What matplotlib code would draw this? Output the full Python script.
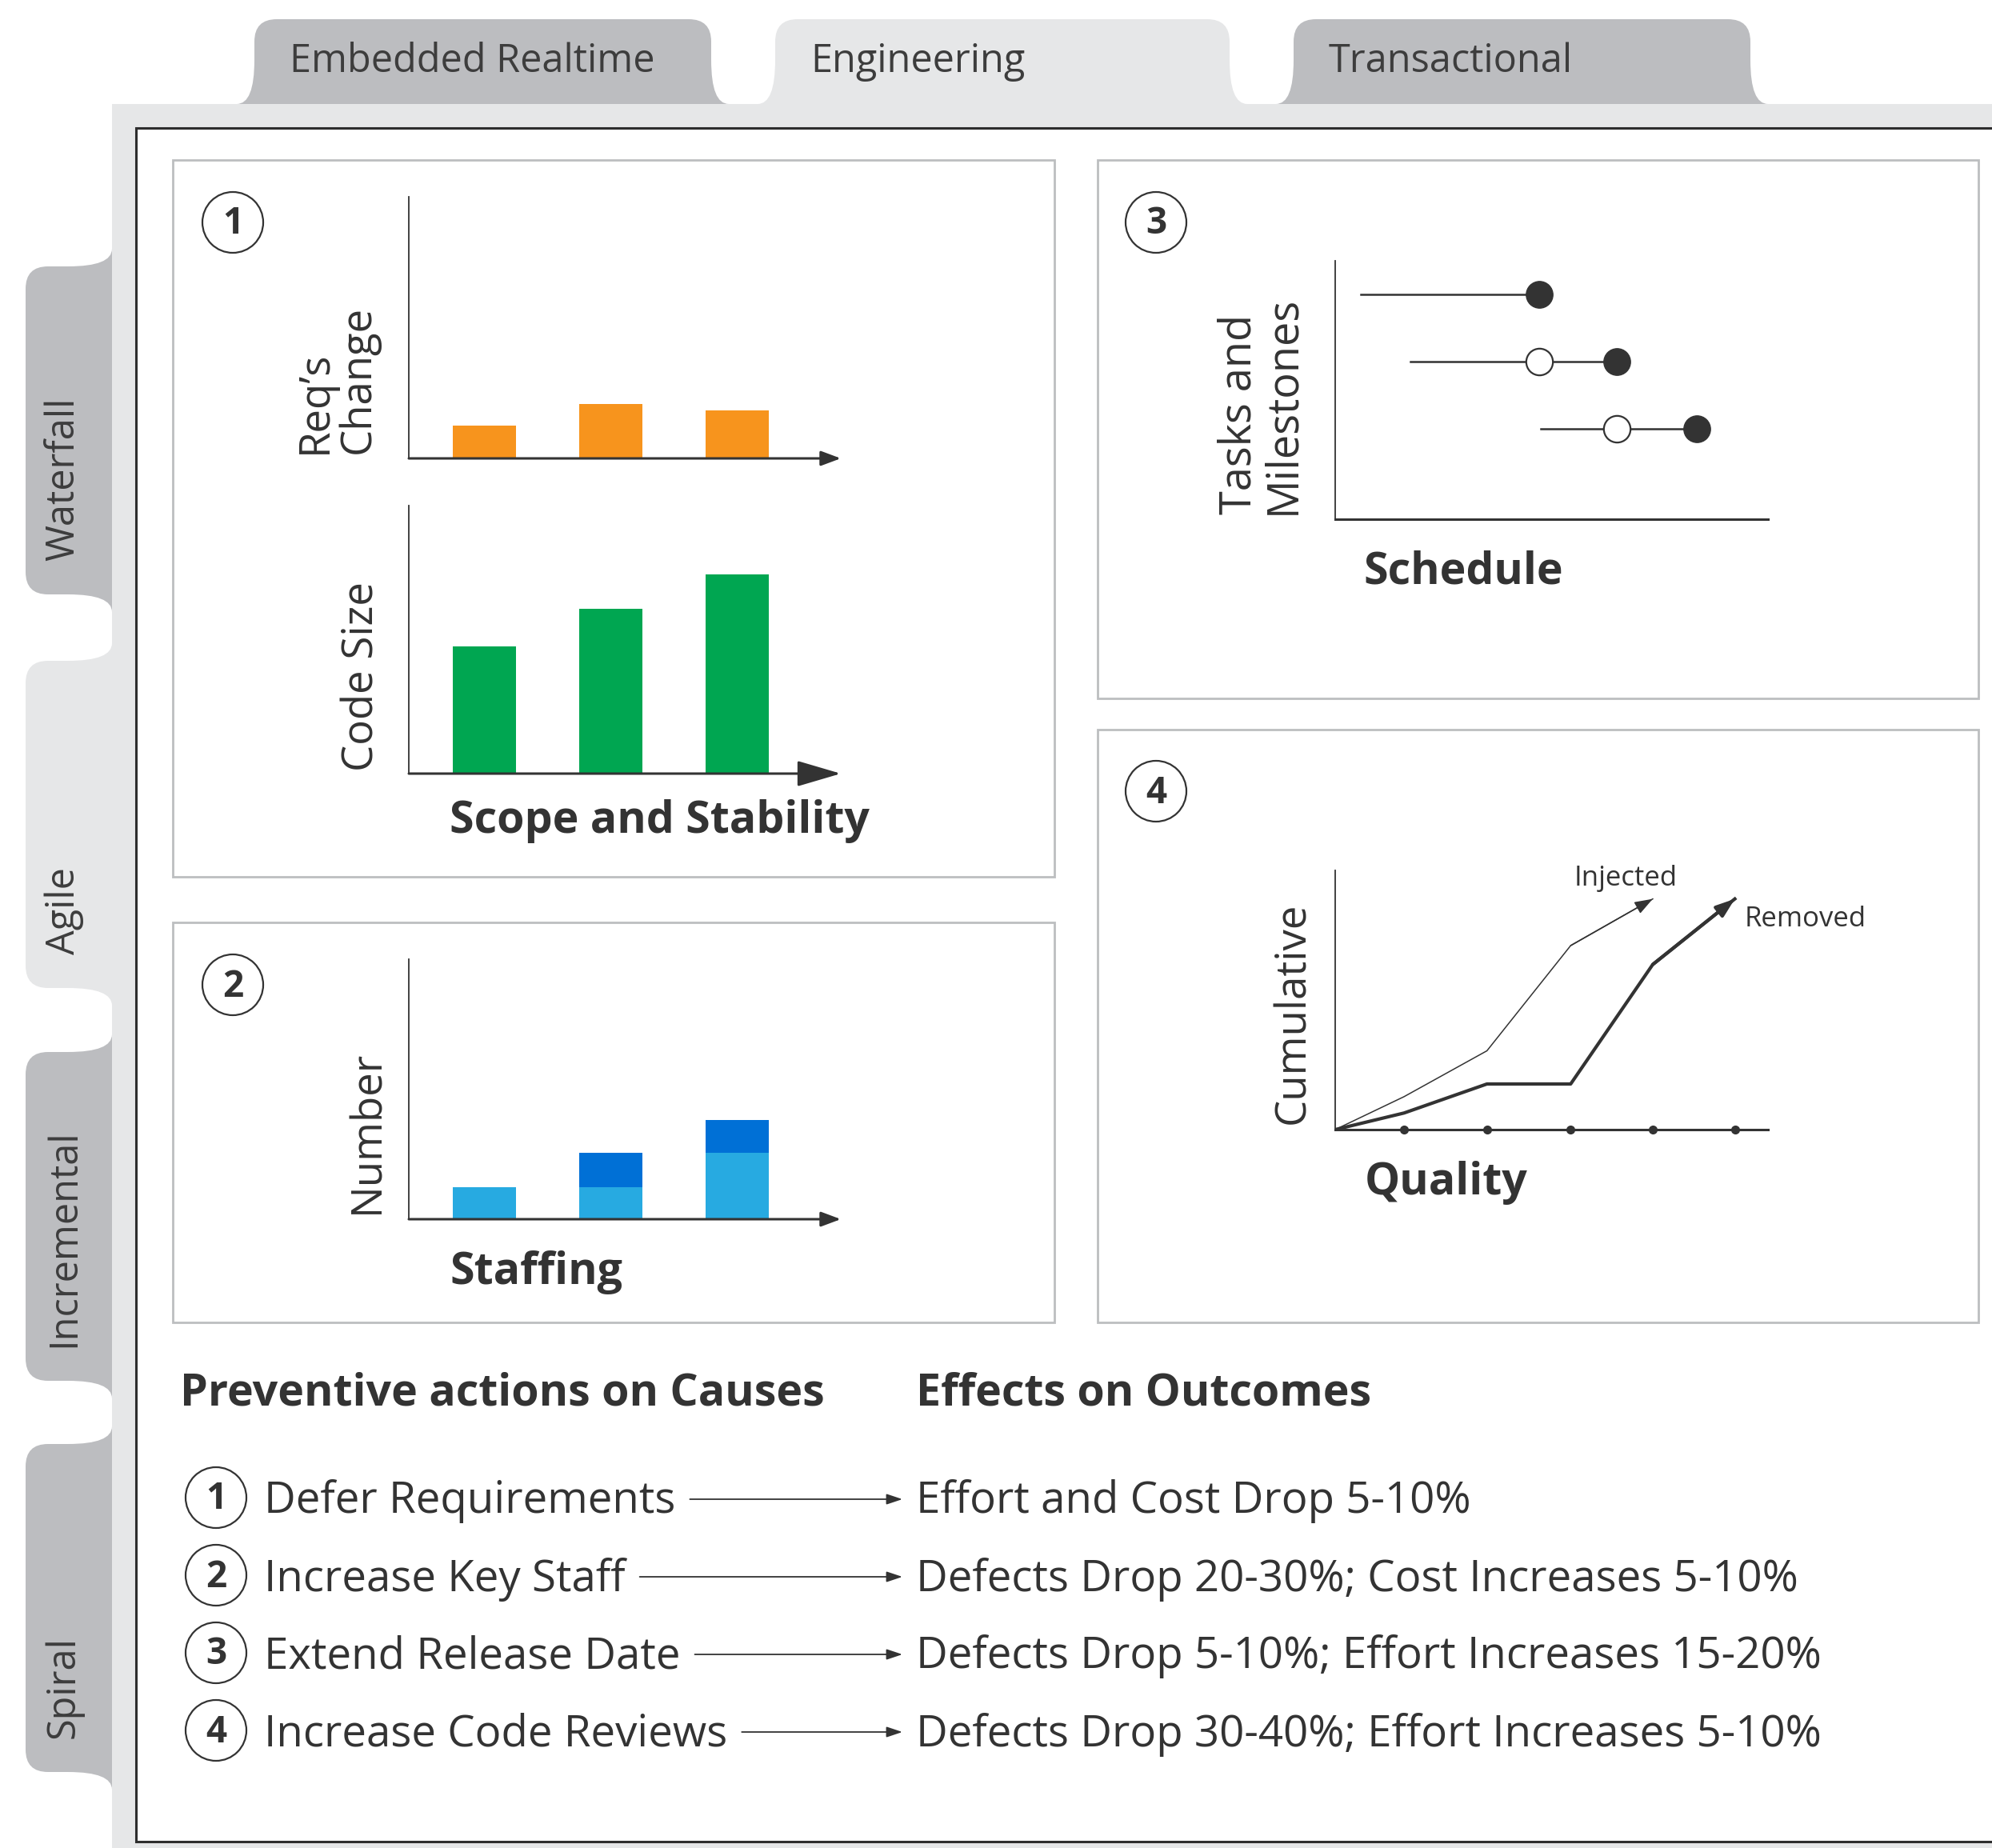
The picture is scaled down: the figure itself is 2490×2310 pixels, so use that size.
import numpy as np
import matplotlib.pyplot as plt
from matplotlib.path import Path
from matplotlib.patches import PathPatch, Rectangle, Circle

plt.rcParams['font.family'] = ['Open Sans', 'DejaVu Sans']

W, H = 2490, 2310
ink = '#333333'
tab_dark = '#bcbdc0'
tab_light = '#e6e7e8'
panel_edge = '#bcbec0'

# tabs
top_tabs = ['Embedded Realtime', 'Engineering', 'Transactional']
top_active = [False, True, False]
side_tabs = ['Waterfall', 'Agile', 'Incremental', 'Spiral']
side_active = [False, True, False, False]

# panel 1: scope and stability (relative units, axis top = 10)
scope_x = [0, 1, 2]
reqs_change = [1.26, 2.09, 1.84]
code_size = [4.74, 6.16, 7.44]
# panel 2: staffing
staff_base = [1.22, 1.22, 2.54]
staff_added = [0.0, 1.32, 1.27]
# panel 3: schedule
task_row = [8.7, 6.1, 3.5]
task_start = [0.59, 1.73, 4.75]
task_planned = [np.nan, 4.72, 6.51]
task_actual = [4.72, 6.51, 8.36]
# panel 4: quality
phase_x = [0, 0.83, 1.83, 2.84, 3.83, 4.82]
injected = [0, 1.27, 3.04, 7.1, 8.9]
removed = [0, 0.64, 1.76, 1.76, 6.37, 8.9]

actions = ['Defer Requirements', 'Increase Key Staff', 'Extend Release Date', 'Increase Code Reviews']
effects = ['Effort and Cost Drop 5-10%',
           'Defects Drop 20-30%; Cost Increases 5-10%',
           'Defects Drop 5-10%; Effort Increases 15-20%',
           'Defects Drop 30-40%; Effort Increases 5-10%']

fig = plt.figure(figsize=(W / 100, H / 100), dpi=100)
bg = fig.add_axes([0, 0, 1, 1])
bg.set_xlim(0, W)
bg.set_ylim(H, 0)
bg.axis('off')


def px_axes(x0, y0, x1, y1):
    ax = fig.add_axes([x0 / W, 1 - y1 / H, (x1 - x0) / W, (y1 - y0) / H])
    ax.patch.set_alpha(0)
    return ax


def top_tab(x0, x1, yt, yb, color, r=28, f=22, h=55):
    verts = [(x0 - f, yb), (x0, yb), (x0, yb - h), (x0, yt + r), (x0, yt), (x0 + r, yt),
             (x1 - r, yt), (x1, yt), (x1, yt + r), (x1, yb - h), (x1, yb), (x1 + f, yb), (x0 - f, yb)]
    codes = [Path.MOVETO, Path.CURVE3, Path.CURVE3, Path.LINETO, Path.CURVE3, Path.CURVE3,
             Path.LINETO, Path.CURVE3, Path.CURVE3, Path.LINETO, Path.CURVE3, Path.CURVE3, Path.CLOSEPOLY]
    bg.add_patch(PathPatch(Path(verts, codes), fc=color, ec='none'))


def side_tab(y0, y1, xl, xr, color, r=28, f=22, h=55):
    verts = [(xr, y0 - f), (xr, y0), (xr - h, y0), (xl + r, y0), (xl, y0), (xl, y0 + r),
             (xl, y1 - r), (xl, y1), (xl + r, y1), (xr - h, y1), (xr, y1), (xr, y1 + f), (xr, y0 - f)]
    codes = [Path.MOVETO, Path.CURVE3, Path.CURVE3, Path.LINETO, Path.CURVE3, Path.CURVE3,
             Path.LINETO, Path.CURVE3, Path.CURVE3, Path.LINETO, Path.CURVE3, Path.CURVE3, Path.CLOSEPOLY]
    bg.add_patch(PathPatch(Path(verts, codes), fc=color, ec='none'))


# frame
bg.add_patch(Rectangle((140, 130), W - 140, H - 130, fc=tab_light, ec='none'))
tab_x = [(318, 889), (969, 1537), (1617, 2188)]
for (x0, x1), name, act in zip(tab_x, top_tabs, top_active):
    top_tab(x0, x1, 24, 130, tab_light if act else tab_dark)
    bg.text(x0 + 44, 77, name, fontsize=35, color='#3d3d3d', va='center', ha='left')

side_y = [(333, 743), (826, 1235), (1315, 1726), (1805, 2215)]
for (y0, y1), name, act in zip(side_y, side_tabs, side_active):
    side_tab(y0, y1, 32, 140, tab_light if act else tab_dark)
    bg.text(80, y1 - 42, name, fontsize=35, color='#3d3d3d', rotation=90,
            rotation_mode='anchor', ha='left', va='center')

bg.add_patch(Rectangle((170, 160), W, 2142, fc='white', ec='#2e2e2e', lw=2.2))

# panels
for x0, y0, x1, y1 in [(216, 200, 1318, 1096), (216, 1153, 1318, 1653),
                       (1372, 200, 2473, 873), (1372, 912, 2473, 1653)]:
    bg.add_patch(Rectangle((x0, y0), x1 - x0, y1 - y0, fc='white', ec=panel_edge, lw=2))


def num_circle(cx, cy, n, r=38):
    bg.add_patch(Circle((cx, cy), r, fc='white', ec=ink, lw=1.6))
    bg.text(cx, cy + 2, str(n), fontsize=33, fontweight='bold', color=ink, ha='center', va='center')


num_circle(291, 278, 1)
num_circle(291, 1231, 2)
num_circle(1445, 278, 3)
num_circle(1445, 989, 4)


def style_axes(ax, arrow=None):
    for s in ['top', 'right', 'bottom']:
        ax.spines[s].set_visible(False)
    ax.spines['left'].set_color(ink)
    ax.spines['left'].set_linewidth(1.3)
    ax.set_xticks([])
    ax.set_yticks([])
    if arrow is None:
        ax.plot([0, 1], [0, 0], transform=ax.transAxes, color=ink, lw=2.2, clip_on=False)
    else:
        ax.annotate('', xy=(1, 0), xytext=(0, 0), xycoords='axes fraction',
                    arrowprops=dict(arrowstyle=arrow, color=ink, lw=2.2,
                                    shrinkA=0, shrinkB=0, mutation_scale=20))


small_arrow = '-|>,head_length=0.75,head_width=0.28'
big_arrow = '-|>,head_length=1.7,head_width=0.5'
label_kw = dict(fontsize=38, color=ink, rotation=90, rotation_mode='anchor',
                ha='left', va='center', linespacing=1.0, multialignment='left')
bold_kw = dict(fontsize=40, fontweight='bold', color=ink, ha='left', va='center')

# panel 1
ax1 = px_axes(511, 246, 1051, 573)
ax1.bar(scope_x, reqs_change, width=0.5, color='#f7941d')
ax1.set_xlim(-0.6, 2.82)
ax1.set_ylim(0, 10)
style_axes(ax1, small_arrow)
bg.text(421, 567, "Req’s\nChange", **label_kw)

ax1b = px_axes(511, 632, 1051, 967)
ax1b.bar(scope_x, code_size, width=0.5, color='#00a651')
ax1b.set_xlim(-0.6, 2.82)
ax1b.set_ylim(0, 10)
style_axes(ax1b, big_arrow)
bg.text(453, 964, 'Code Size', **label_kw)
bg.text(562, 1027, 'Scope and Stability', **bold_kw)

# panel 2
ax2 = px_axes(511, 1199, 1051, 1524)
ax2.bar(scope_x, staff_base, width=0.5, color='#27aae1')
ax2.bar(scope_x, staff_added, bottom=staff_base, width=0.5, color='#0070d6')
ax2.set_xlim(-0.6, 2.82)
ax2.set_ylim(0, 10)
style_axes(ax2, small_arrow)
bg.text(460, 1517, 'Number', **label_kw)
bg.text(562, 1591, 'Staffing', **bold_kw)

# panel 3
ax3 = px_axes(1669, 326, 2210, 649)
for y, s, p, a in zip(task_row, task_start, task_planned, task_actual):
    ax3.plot([s, a], [y, y], color=ink, lw=1.8, zorder=1)
    if not np.isnan(p):
        ax3.plot(p, y, 'o', ms=24, mfc='white', mec=ink, mew=1.6, zorder=2)
    ax3.plot(a, y, 'o', ms=24, mfc=ink, mec=ink, zorder=2)
ax3.set_xlim(0, 10)
ax3.set_ylim(0, 10)
style_axes(ax3)
bg.text(1576, 643, 'Tasks and\nMilestones', fontsize=39, color=ink, rotation=90, rotation_mode='anchor',
        ha='left', va='center', linespacing=1.0, multialignment='left')
bg.text(1704, 715, 'Schedule', **bold_kw)

# panel 4
ax4 = px_axes(1669, 1088, 2210, 1412)
ax4.plot(phase_x[:len(injected)], injected, color=ink, lw=1.1)
ax4.plot(phase_x, removed, color=ink, lw=3)
ax4.annotate('', xy=(phase_x[len(injected) - 1], injected[-1]),
             xytext=(phase_x[len(injected) - 2], injected[-2]),
             arrowprops=dict(arrowstyle='-|>,head_length=0.7,head_width=0.25', color=ink, lw=1.1,
                             shrinkA=0, shrinkB=0, mutation_scale=20))
ax4.annotate('', xy=(phase_x[-1], removed[-1]), xytext=(phase_x[-2], removed[-2]),
             arrowprops=dict(arrowstyle='-|>,head_length=0.7,head_width=0.25', color=ink, lw=3,
                             shrinkA=0, shrinkB=0, mutation_scale=20))
ax4.plot(phase_x[1:], [0] * (len(phase_x) - 1), 'o', ms=7, color=ink, clip_on=False)
ax4.set_xlim(0, 5.22)
ax4.set_ylim(0, 10)
style_axes(ax4)
ax4.text(phase_x[len(injected) - 1] - 0.95, injected[-1] + 0.5, 'Injected', fontsize=25, color=ink)
ax4.text(phase_x[-1] + 0.12, removed[-1] - 1.05, 'Removed', fontsize=25, color=ink)
bg.text(1617, 1405, 'Cumulative', **label_kw)
bg.text(1706, 1478, 'Quality', **bold_kw)

# bottom summary
bg.text(225, 1742, 'Preventive actions on Causes', fontsize=40, fontweight='bold', color=ink, va='center')
bg.text(1145, 1742, 'Effects on Outcomes', fontsize=40, fontweight='bold', color=ink, va='center')
row_y = [1872, 1969, 2066, 2163]
fig.canvas.draw()
renderer = fig.canvas.get_renderer()
for i, (y, a, e) in enumerate(zip(row_y, actions, effects)):
    num_circle(270, y, i + 1)
    t = bg.text(330, y + 5, a, fontsize=39.3, color=ink, va='center')
    bg.text(1145, y + 5, e, fontsize=39.3, color=ink, va='center')
    bb = t.get_window_extent(renderer)
    bg.annotate('', xy=(1128, y + 2), xytext=(bb.x1 + 18, y + 2),
                arrowprops=dict(arrowstyle='-|>,head_length=0.6,head_width=0.2', color=ink, lw=1.3,
                                shrinkA=0, shrinkB=0, mutation_scale=20))

fig.savefig('out.png', dpi=100, facecolor='white')
